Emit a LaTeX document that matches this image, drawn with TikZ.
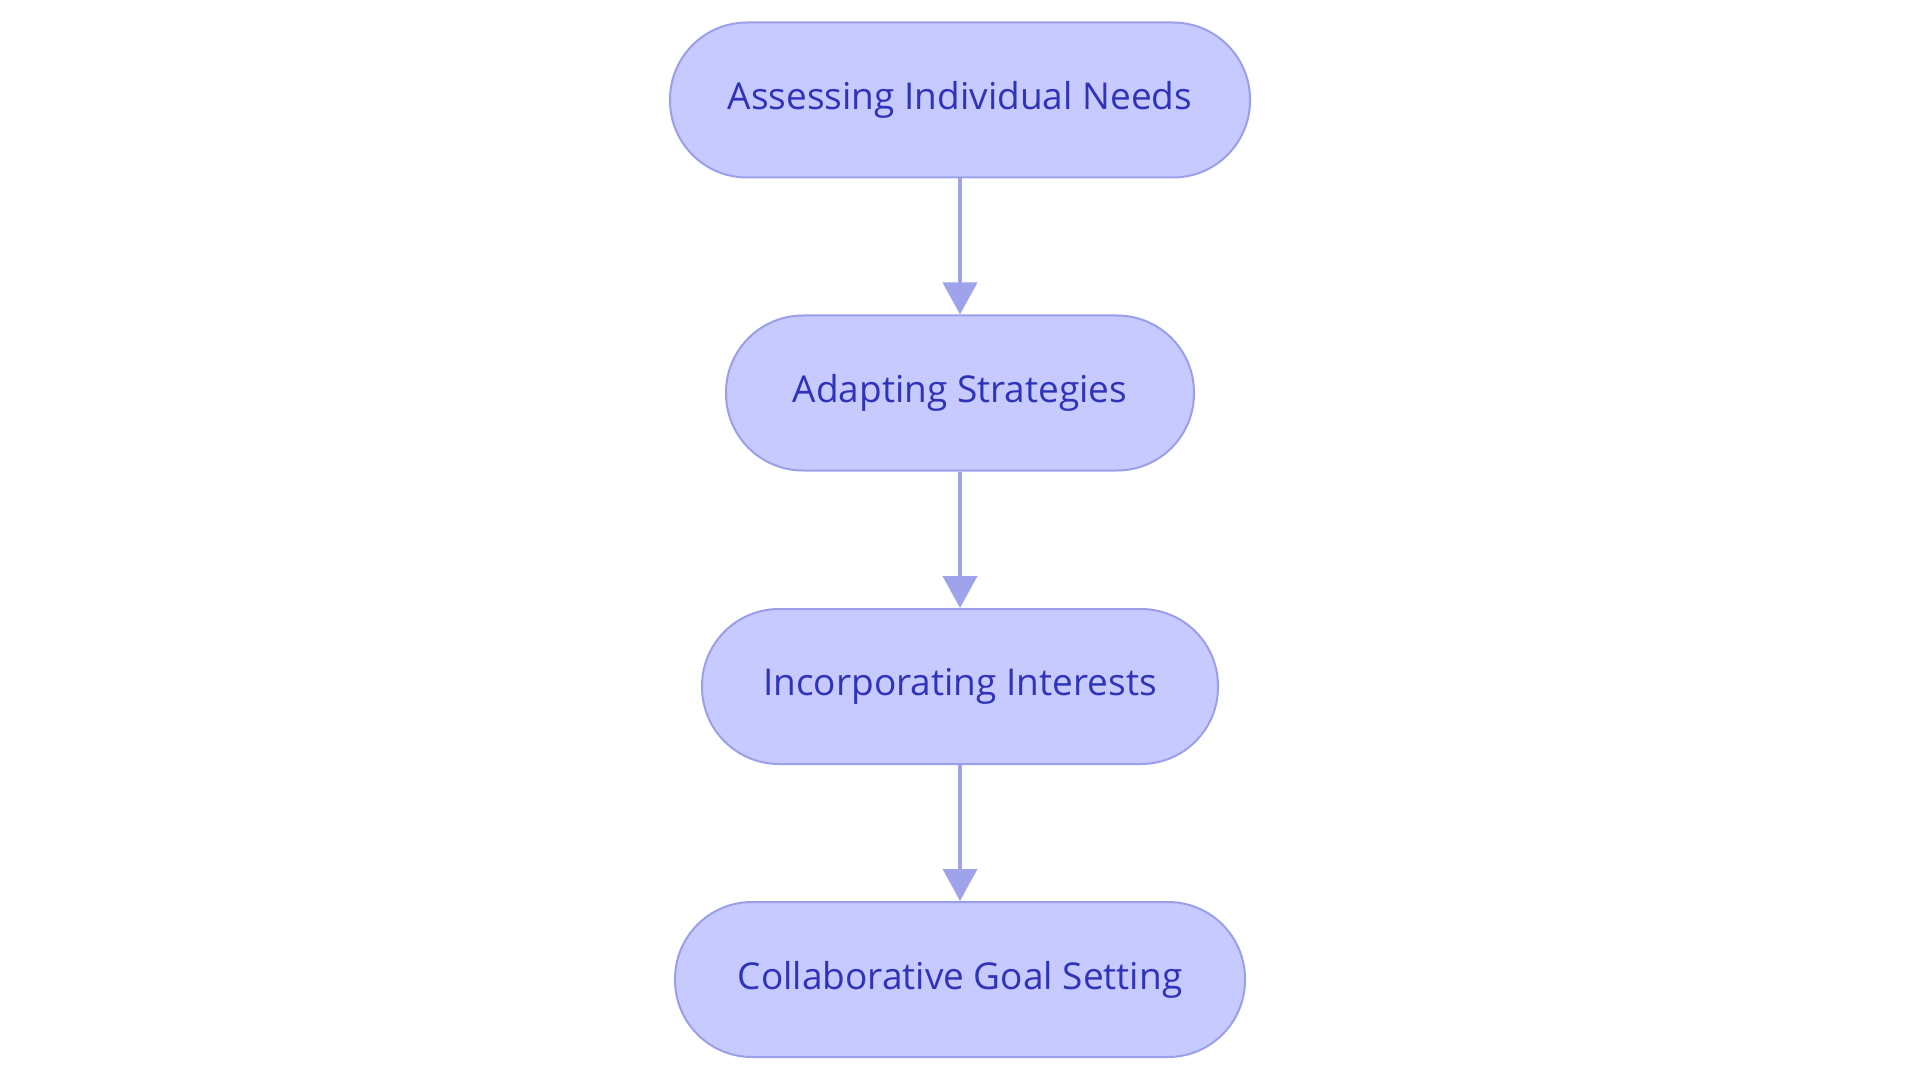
\documentclass[tikz,border=0pt]{standalone}
\usepackage{fontspec}
\setmainfont{Open Sans}
\usetikzlibrary{arrows.meta}
\definecolor{boxfill}{HTML}{C7CAFF}
\definecolor{boxline}{HTML}{9A9FE8}
\definecolor{boxtext}{HTML}{2E33B8}
\definecolor{arrowc}{HTML}{9EA3EC}
\tikzset{
  stepbox/.style={draw=boxline, fill=boxfill, line width=2pt, rounded corners=77pt,
    minimum height=155pt, text=boxtext, font=\fontsize{37pt}{42pt}\selectfont, inner sep=0pt},
  flow/.style={draw=arrowc, line width=4pt, -{Triangle[length=32pt,width=34pt]}}
}
\begin{document}
\begin{tikzpicture}[x=1pt,y=-1pt]
\useasboundingbox (0,0) rectangle (1920,1083);
\node[stepbox, minimum width=580pt] (a) at (960,100) {Assessing Individual Needs};
\node[stepbox, minimum width=468pt] (b) at (960,393) {Adapting Strategies};
\node[stepbox, minimum width=516pt] (c) at (960,686.5) {Incorporating Interests};
\node[stepbox, minimum width=570pt] (d) at (960,979.5) {Collaborative Goal Setting};
\draw[flow] (a) -- (b);
\draw[flow] (b) -- (c);
\draw[flow] (c) -- (d);
\end{tikzpicture}
\end{document}
